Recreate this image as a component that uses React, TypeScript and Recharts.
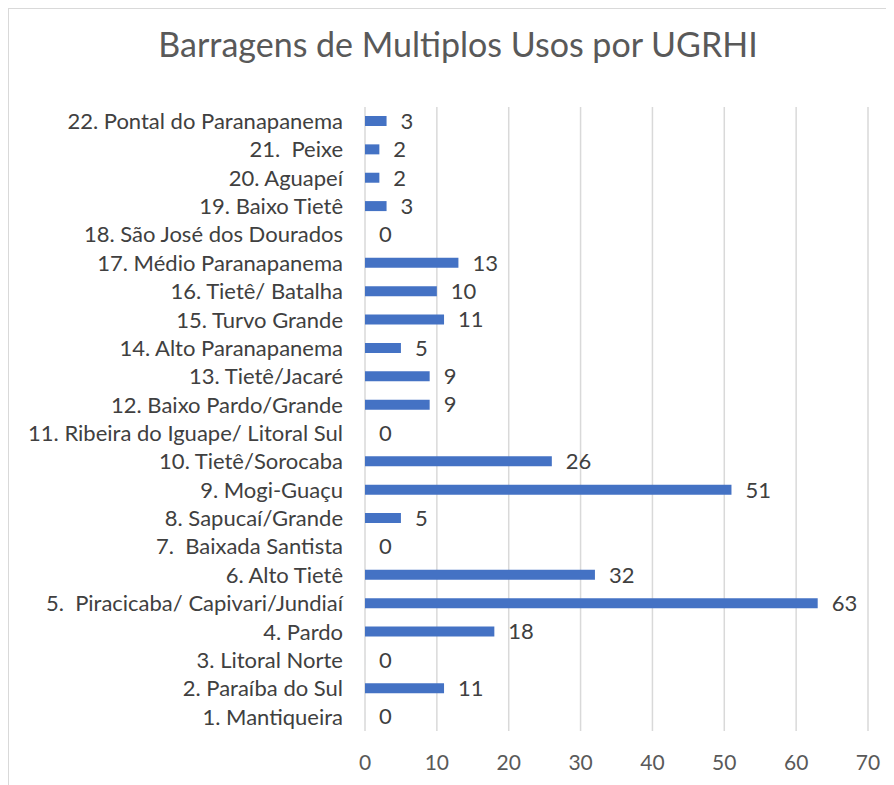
import { BarChart, Bar, XAxis, YAxis, CartesianGrid, LabelList } from 'recharts';

const regions = [
  '1. Mantiqueira',
  '2. Paraíba do Sul',
  '3. Litoral Norte',
  '4. Pardo',
  '5.  Piracicaba/ Capivari/Jundiaí',
  '6. Alto Tietê',
  '7.  Baixada Santista',
  '8. Sapucaí/Grande',
  '9. Mogi-Guaçu',
  '10. Tietê/Sorocaba',
  '11. Ribeira do Iguape/ Litoral Sul',
  '12. Baixo Pardo/Grande',
  '13. Tietê/Jacaré',
  '14. Alto Paranapanema',
  '15. Turvo Grande',
  '16. Tietê/ Batalha',
  '17. Médio Paranapanema',
  '18. São José dos Dourados',
  '19. Baixo Tietê',
  '20. Aguapeí',
  '21.  Peixe',
  '22. Pontal do Paranapanema',
];

const damCounts = [0, 11, 0, 18, 63, 32, 0, 5, 51, 26, 0, 9, 9, 5, 11, 10, 13, 0, 3, 2, 2, 3];

const xTicks = [0, 10, 20, 30, 40, 50, 60, 70];

const data = regions.map((name, i) => ({ name, value: damCounts[i] }));

const font = 'Lato, sans-serif';
const textColor = '#595959';

// svg text collapses runs of spaces, keep the double ones visible
const keepSpaces = (s: string) => s.replace(/  /g, ' \u00A0');

export default function App() {
  return (
    <div
      style={{
        position: 'relative',
        width: 886,
        height: 777,
        marginLeft: -1,
        marginTop: -1,
        borderLeft: '2px solid #d9d9d9',
        borderTop: '2px solid #d9d9d9',
        fontFamily: font,
        overflow: 'hidden',
      }}
    >
      <div
        style={{
          position: 'absolute',
          top: 14,
          left: 0,
          width: 898,
          textAlign: 'center',
          fontSize: 34,
          color: textColor,
        }}
      >
        Barragens de Multiplos Usos por UGRHI
      </div>
      <BarChart
        width={880}
        height={772}
        data={data}
        layout="vertical"
        margin={{ top: 98, right: 21, left: 0, bottom: 20 }}
        style={{ position: 'absolute', top: 0, left: 0 }}
      >
        <CartesianGrid horizontal={false} stroke="#d9d9d9" strokeWidth={1.5} />
        <XAxis
          type="number"
          domain={[0, 70]}
          ticks={xTicks}
          axisLine={false}
          tickLine={false}
          tickMargin={18}
          height={30}
          tick={{ fontSize: 21, fill: textColor, fontFamily: font }}
        />
        <YAxis
          type="category"
          dataKey="name"
          reversed
          width={356}
          axisLine={false}
          tickLine={false}
          tickSize={0}
          tickMargin={22}
          interval={0}
          tickFormatter={keepSpaces}
          tick={{ fontSize: 22, fill: '#404040', fontFamily: font }}
        />
        <Bar
          dataKey="value"
          fill="#4472C4"
          barSize={10}
          minPointSize={0.01}
          isAnimationActive={false}
        >
          <LabelList
            dataKey="value"
            position="right"
            offset={14}
            style={{ fontSize: 22, fill: '#404040', fontFamily: font }}
          />
        </Bar>
      </BarChart>
    </div>
  );
}
